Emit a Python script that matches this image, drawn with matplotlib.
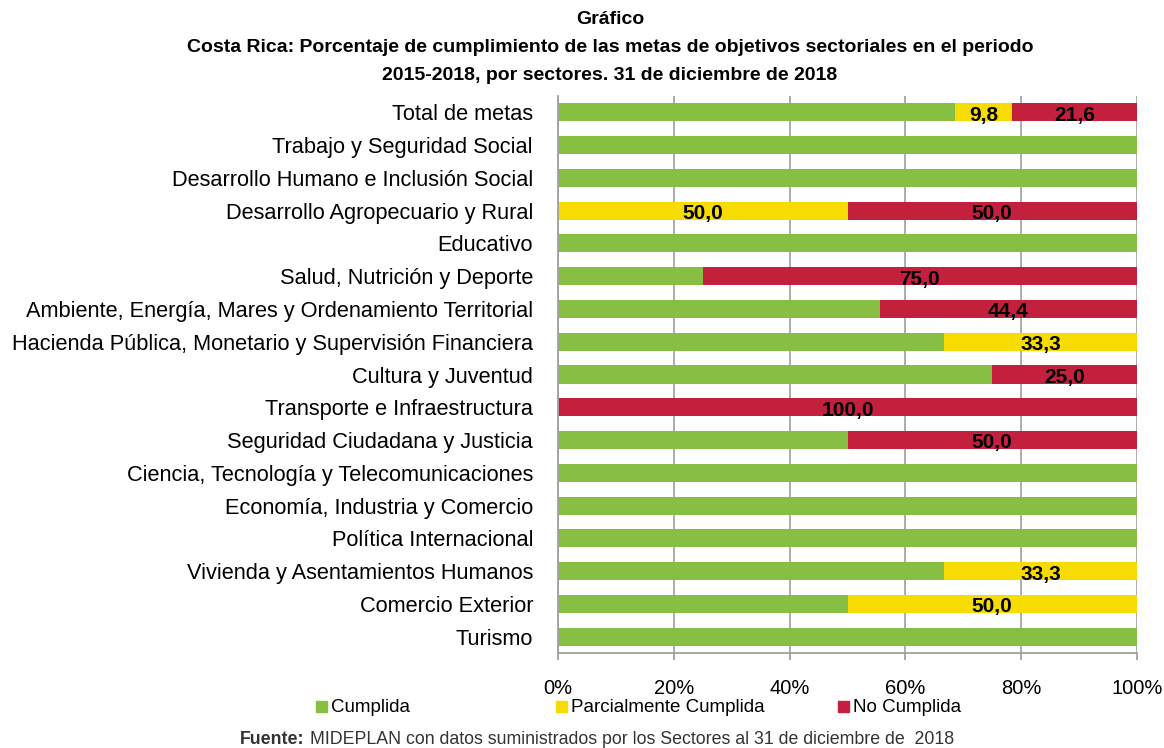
import matplotlib
matplotlib.use("Agg")
import matplotlib.pyplot as plt
from matplotlib.patches import Rectangle
from matplotlib import font_manager
import numpy as np

# fuente condensada si existe
names = {f.name for f in font_manager.fontManager.ttflist}
FONT = "Liberation Sans Narrow" if "Liberation Sans Narrow" in names else "Liberation Sans"
plt.rcParams["font.family"] = [FONT, "DejaVu Sans"]

sectores = [
    "Total de metas",
    "Trabajo y Seguridad Social",
    "Desarrollo Humano e Inclusión Social",
    "Desarrollo Agropecuario y Rural",
    "Educativo",
    "Salud, Nutrición y Deporte",
    "Ambiente, Energía, Mares y Ordenamiento Territorial",
    "Hacienda Pública, Monetario y Supervisión Financiera",
    "Cultura y Juventud",
    "Transporte e Infraestructura",
    "Seguridad Ciudadana y Justicia",
    "Ciencia, Tecnología y Telecomunicaciones",
    "Economía, Industria y Comercio",
    "Política Internacional",
    "Vivienda y Asentamientos Humanos",
    "Comercio Exterior",
    "Turismo",
]
cumplida = [68.6, 100, 100, 0, 100, 25.0, 55.6, 66.7, 75.0, 0, 50.0, 100, 100, 100, 66.7, 50.0, 100]
parcial = [9.8, 0, 0, 50.0, 0, 0, 0, 33.3, 0, 0, 0, 0, 0, 0, 33.3, 50.0, 0]
no_cumplida = [21.6, 0, 0, 50.0, 0, 75.0, 44.4, 0, 25.0, 100.0, 50.0, 0, 0, 0, 0, 0, 0]

series = ["Cumplida", "Parcialmente Cumplida", "No Cumplida"]
colores = ["#86BF42", "#F6DC00", "#C3203D"]
xticks = [0, 20, 40, 60, 80, 100]

fig = plt.figure(figsize=(11.64, 7.48), dpi=100)
ax = fig.add_axes([558 / 1164, 1 - 653 / 748, (1137 - 558) / 1164, (653 - 96) / 748])

y = np.arange(len(sectores))
barh = 0.55
left = np.zeros(len(sectores))
for vals, col, show in zip([cumplida, parcial, no_cumplida], colores, [False, True, True]):
    vals = np.array(vals)
    ax.barh(y, vals, left=left, height=barh, color=col, zorder=2)
    if show:
        for yi, v, l in zip(y, vals, left):
            if v > 0:
                ax.text(l + v / 2, yi + 0.09, f"{v:.1f}".replace(".", ","),
                        ha="center", va="center", fontsize=15, fontweight="bold", zorder=3)
    left += vals

ax.set_ylim(len(sectores) - 0.5, -0.5)
ax.set_xlim(0, 100)
ax.set_yticks(y)
ax.set_yticklabels(sectores, fontsize=15.7)
ax.tick_params(axis="y", length=0, pad=18)
ax.set_xticks(xticks)
ax.set_xticklabels([f"{t}%" for t in xticks], fontsize=14.5)
ax.tick_params(axis="x", length=5, color="#A0A0A0", width=1.3, pad=14)
ax.grid(axis="x", color="#A6A6A6", linewidth=1.3, zorder=0)
for s in ["top", "right"]:
    ax.spines[s].set_visible(False)
for s in ["left", "bottom"]:
    ax.spines[s].set_color("#A0A0A0")
    ax.spines[s].set_linewidth(1.3)

# titulo
fig.text(0.524, 1 - 20 / 748, "Gráfico", ha="center", va="center", fontsize=14, fontweight="bold")
fig.text(0.524, 1 - 48 / 748,
         "Costa Rica: Porcentaje de cumplimiento de las metas de objetivos sectoriales en el periodo",
         ha="center", va="center", fontsize=14, fontweight="bold")
fig.text(0.524, 1 - 76 / 748, "2015-2018, por sectores. 31 de diciembre de 2018",
         ha="center", va="center", fontsize=14, fontweight="bold")

# leyenda
for xpos, col, lab in zip([316, 556, 838], colores, series):
    fig.add_artist(Rectangle((xpos / 1164, 1 - 712 / 748), 11 / 1164, 11 / 748,
                             transform=fig.transFigure, color=col))
    fig.text((xpos + 15) / 1164, 1 - 707 / 748, lab, ha="left", va="center", fontsize=13.5)

# fuente
t1 = fig.text(240 / 1164, 1 - 740 / 748, "Fuente:", ha="left", va="center",
              fontsize=12.8, fontweight="bold", color="#333333")
ax.annotate("MIDEPLAN con datos suministrados por los Sectores al 31 de diciembre de  2018",
            xy=(1, 0.5), xycoords=t1, xytext=(4, 0), textcoords="offset points",
            ha="left", va="center", fontsize=12.8, color="#333333")

fig.savefig("out.png", dpi=100)
